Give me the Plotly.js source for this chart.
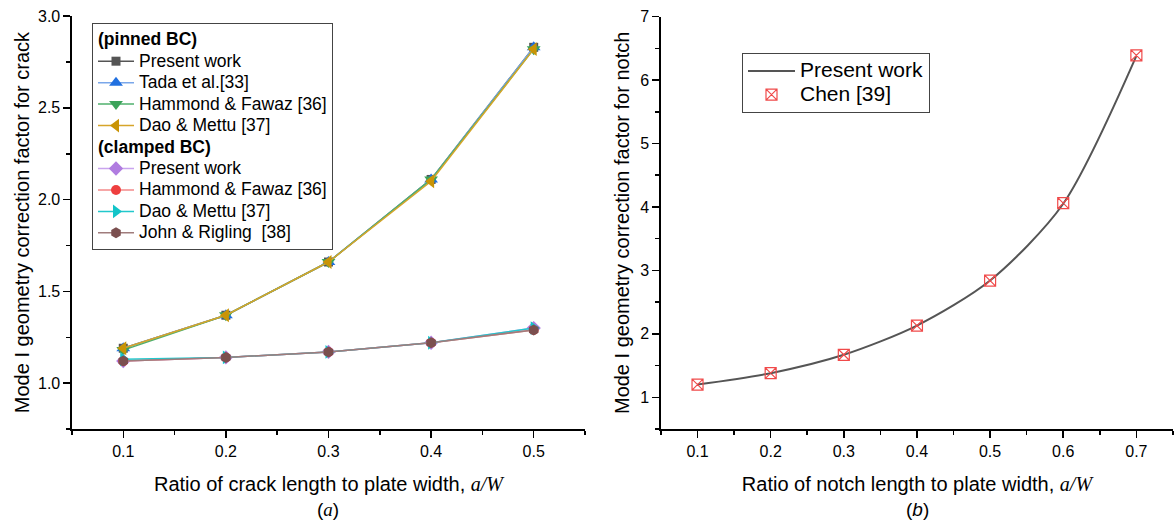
<!DOCTYPE html>
<html>
<head>
<meta charset="utf-8">
<script src="https://cdn.plot.ly/plotly-3.0.1.min.js"></script>
<style>html,body{margin:0;padding:0;background:#fff;}#chart{width:1174px;height:520px;}</style>
</head>
<body>
<div id="chart"></div>
<script>
// ---------- data ----------
const crackRatio = [0.1, 0.2, 0.3, 0.4, 0.5];
const pinnedPresent  = [1.19, 1.37, 1.66, 2.11, 2.83];
const pinnedTada     = [1.19, 1.37, 1.66, 2.11, 2.83];
const pinnedHammond  = [1.18, 1.37, 1.66, 2.11, 2.82];
const pinnedDao      = [1.19, 1.37, 1.66, 2.10, 2.82];
const clampedPresent = [1.12, 1.14, 1.17, 1.22, 1.30];
const clampedHammond = [1.12, 1.14, 1.17, 1.22, 1.29];
const clampedDao     = [1.13, 1.14, 1.17, 1.22, 1.30];
const clampedJohn    = [1.12, 1.14, 1.17, 1.22, 1.29];

const notchRatio   = [0.1, 0.2, 0.3, 0.4, 0.5, 0.6, 0.7];
const notchPresent = [1.20, 1.38, 1.67, 2.13, 2.84, 4.05, 6.38];
const notchChen    = [1.20, 1.38, 1.67, 2.13, 2.84, 4.06, 6.39];

const pinnedNames  = ['Present work', 'Tada et al.[33]', 'Hammond & Fawaz [36]', 'Dao & Mettu [37]'];
const clampedNames = ['Present work', 'Hammond & Fawaz [36]', 'Dao & Mettu [37]', 'John & Rigling  [38]'];
const groupTitles  = ['(pinned BC)', '(clamped BC)'];
const notchNames   = ['Present work', 'Chen [39]'];

// ---------- helpers ----------
const big = (s, px) => '<span style="font-size:' + px + 'px">' + s + '</span>';

function leftTrace(y, name, group, title, symbol, size, mcol, lcol, showTitle) {
  const t = {
    x: crackRatio, y: y, name: big(name, 17.5), type: 'scatter', mode: 'lines+markers',
    xaxis: 'x', yaxis: 'y', legend: 'legend', legendgroup: group,
    line: {color: lcol, width: 1.5},
    marker: {symbol: symbol, size: size, color: mcol, line: {width: 0}}
  };
  if (showTitle) t.legendgrouptitle = {
    text: big('<b>' + title + '</b>', 17.5),
    font: {size: 14.2, family: 'Liberation Sans', color: '#000'}
  };
  return t;
}

const traces = [
  leftTrace(pinnedPresent, pinnedNames[0], 'pinned', groupTitles[0], 'square', 9, '#555555', '#555555', true),
  leftTrace(pinnedTada, pinnedNames[1], 'pinned', groupTitles[0], 'triangle-up', 12, '#2170e0', '#7aa7ea', false),
  leftTrace(pinnedHammond, pinnedNames[2], 'pinned', groupTitles[0], 'triangle-down', 12, '#3ba35a', '#4fb06c', false),
  leftTrace(pinnedDao, pinnedNames[3], 'pinned', groupTitles[0], 'triangle-left', 12, '#c99406', '#d6a52a', false),
  leftTrace(clampedPresent, clampedNames[0], 'clamped', groupTitles[1], 'diamond', 11, '#b07ce0', '#c9a4ee', true),
  leftTrace(clampedHammond, clampedNames[1], 'clamped', groupTitles[1], 'circle', 10, '#ee3f3f', '#f38a8a', false),
  leftTrace(clampedDao, clampedNames[2], 'clamped', groupTitles[1], 'triangle-right', 12, '#12c4c8', '#22c8cc', false),
  leftTrace(clampedJohn, clampedNames[3], 'clamped', groupTitles[1], 'hexagon', 11, '#7b4f4f', '#a07c7c', false),
  {
    x: notchRatio, y: notchPresent, name: big(notchNames[0], 21), type: 'scatter', mode: 'lines',
    xaxis: 'x2', yaxis: 'y2', legend: 'legend2',
    line: {color: '#555555', width: 2, shape: 'spline', smoothing: 0.8}
  },
  {
    x: notchRatio, y: notchChen, name: big(notchNames[1], 21), type: 'scatter', mode: 'markers',
    xaxis: 'x2', yaxis: 'y2', legend: 'legend2',
    marker: {symbol: 'square-x-open', size: 11, color: '#f04a4a', line: {width: 1.2}}
  }
];

// ---------- layout ----------
const axisFont = {family: 'Liberation Sans', size: 16, color: '#000'};
const titleFont = {family: 'Liberation Sans', size: 20, color: '#000'};
function baseAxis(extra) {
  return Object.assign({
    showline: true, linecolor: '#000', linewidth: 1.5, mirror: false,
    ticks: 'outside', ticklen: 7, tickwidth: 1.5, tickcolor: '#000',
    showgrid: false, zeroline: false, automargin: false,
    tickfont: axisFont
  }, extra);
}
const serif = "<span style=\"font-family:'Liberation Serif'\"><i>a/W</i></span>";

const layout = {
  width: 1174, height: 520,
  margin: {l: 0, r: 0, t: 0, b: 0},
  paper_bgcolor: '#fff', plot_bgcolor: '#fff',
  font: {family: 'Liberation Sans', color: '#000'},
  showlegend: true,
  xaxis: baseAxis({
    domain: [0.0613, 0.4983], range: [0.05, 0.55], dtick: 0.1, tick0: 0, tickformat: '.1f',
    minor: {ticks: 'outside', ticklen: 4, dtick: 0.05, tickcolor: '#000', tickwidth: 1.5},
    anchor: 'y',
    title: {text: 'Ratio of crack length to plate width, ' + serif, font: titleFont, standoff: 18}
  }),
  yaxis: baseAxis({
    domain: [0.175, 0.969], range: [0.75, 3.0], dtick: 0.5, tick0: 0, tickformat: '.1f',
    minor: {ticks: 'outside', ticklen: 4, dtick: 0.25, tickcolor: '#000', tickwidth: 1.5},
    anchor: 'x',
    title: {text: 'Mode I geometry correction factor for crack', font: titleFont, standoff: 3}
  }),
  xaxis2: baseAxis({
    domain: [0.563, 0.9991], range: [0.05, 0.75], dtick: 0.1, tick0: 0, tickformat: '.1f',
    minor: {ticks: 'outside', ticklen: 4, dtick: 0.05, tickcolor: '#000', tickwidth: 1.5},
    anchor: 'y2',
    title: {text: 'Ratio of notch length to plate width, ' + serif, font: titleFont, standoff: 18}
  }),
  yaxis2: baseAxis({
    domain: [0.175, 0.968], range: [0.5, 7], dtick: 1, tick0: 0,
    minor: {ticks: 'outside', ticklen: 4, dtick: 0.5, tickcolor: '#000', tickwidth: 1.5},
    anchor: 'x2',
    title: {text: 'Mode I geometry correction factor for notch', font: titleFont, standoff: 5}
  }),
  legend: {
    x: 92 / 1174, y: 1 - 23 / 520, xanchor: 'left', yanchor: 'top',
    bgcolor: '#fff', bordercolor: '#444', borderwidth: 1,
    font: {family: 'Liberation Sans', size: 14.2, color: '#000'},
    traceorder: 'grouped', tracegroupgap: 0, itemwidth: 36, itemclick: false
  },
  legend2: {
    x: 742 / 1174, y: 1 - 53 / 520, xanchor: 'left', yanchor: 'top',
    bgcolor: '#fff', bordercolor: '#444', borderwidth: 1,
    font: {family: 'Liberation Sans', size: 16, color: '#000'},
    tracegroupgap: 0, itemwidth: 47, itemclick: false
  },
  annotations: [
    {text: "(<span style=\"font-family:'Liberation Serif'\"><i>a</i></span>)", xref: 'paper', yref: 'paper',
     x: 328 / 1174, y: 1 - 509 / 520, xanchor: 'center', yanchor: 'middle', showarrow: false,
     font: {family: 'Liberation Sans', size: 19, color: '#000'}},
    {text: '(<i>b</i>)', xref: 'paper', yref: 'paper',
     x: 917 / 1174, y: 1 - 509 / 520, xanchor: 'center', yanchor: 'middle', showarrow: false,
     font: {family: 'Liberation Sans', size: 19, color: '#000'}}
  ]
};

Plotly.newPlot('chart', traces, layout, {staticPlot: true, displayModeBar: false});
</script>
</body>
</html>
